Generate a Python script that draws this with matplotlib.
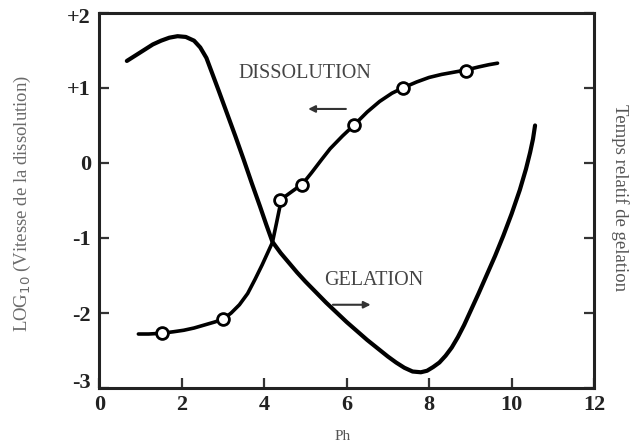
import matplotlib
matplotlib.use("Agg")
import matplotlib.pyplot as plt
import matplotlib.transforms as mtransforms

# pH values and log10 dissolution rate (measured points, open circles)
diss_ph = [1.52, 3.01, 4.39, 4.93, 6.19, 7.36, 8.90]
diss_log = [-2.27, -2.08, -0.50, -0.29, 0.51, 1.00, 1.23]

# hand-drawn trend line through the dissolution measurements
diss_line_ph = [0.95, 1.2, 1.52, 1.8, 2.05, 2.3, 2.55, 2.8, 3.01, 3.2, 3.4,
                3.6, 3.78, 3.95, 4.1, 4.2, 4.3, 4.39, 4.5, 4.7, 4.93, 5.15,
                5.4, 5.6, 5.9, 6.19, 6.5, 6.8, 7.1, 7.36, 7.7, 8.0, 8.3, 8.6,
                8.9, 9.2, 9.45, 9.66]
diss_line_log = [-2.28, -2.28, -2.27, -2.25, -2.23, -2.20, -2.16, -2.12,
                 -2.08, -2.00, -1.89, -1.74, -1.55, -1.36, -1.18, -1.06,
                 -0.80, -0.56, -0.45, -0.37, -0.28, -0.13, 0.05, 0.19, 0.36,
                 0.51, 0.68, 0.82, 0.93, 1.00, 1.08, 1.14, 1.18, 1.21, 1.24,
                 1.28, 1.31, 1.33]

# relative gelation time curve (plotted on the same vertical scale)
gel_ph = [0.67, 0.9, 1.1, 1.3, 1.5, 1.7, 1.9, 2.1, 2.3, 2.45, 2.6, 2.75, 2.9,
          3.1, 3.3, 3.5, 3.7, 3.9, 4.05, 4.2, 4.4, 4.6, 4.8, 5.0, 5.25, 5.5,
          5.75, 6.0, 6.25, 6.5, 6.75, 7.0, 7.2, 7.4, 7.6, 7.8, 7.95, 8.1,
          8.25, 8.4, 8.55, 8.7, 8.85, 9.0, 9.2, 9.4, 9.6, 9.8, 10.0, 10.2,
          10.35, 10.45, 10.52, 10.57]
gel_time = [1.36, 1.44, 1.51, 1.58, 1.63, 1.67, 1.69, 1.68, 1.63, 1.54, 1.40,
            1.18, 0.96, 0.66, 0.36, 0.05, -0.27, -0.58, -0.82, -1.05, -1.20,
            -1.33, -1.46, -1.58, -1.72, -1.86, -1.99, -2.12, -2.24, -2.36,
            -2.47, -2.58, -2.66, -2.73, -2.78, -2.79, -2.77, -2.72, -2.66,
            -2.57, -2.46, -2.32, -2.16, -1.98, -1.74, -1.49, -1.24, -0.97,
            -0.68, -0.36, -0.08, 0.14, 0.32, 0.50]

x_ticks = [0, 2, 4, 6, 8, 10, 12]
y_ticks = [2, 1, 0, -1, -2, -3]
y_tick_labels = ["+2", "+1", "0", "-1", "-2", "-3"]

serif = ["Liberation Serif", "DejaVu Serif"]

fig = plt.figure(figsize=(6.36, 4.46), dpi=100)
ax = fig.add_axes([0.156, 0.130, 0.778, 0.841])

ax.plot(gel_ph, gel_time, color="black", lw=3.0, solid_capstyle="round",
        solid_joinstyle="round", zorder=2)
ax.plot(diss_line_ph, diss_line_log, color="black", lw=2.6,
        solid_capstyle="round", solid_joinstyle="round", zorder=2)
ax.plot(diss_ph, diss_log, linestyle="none", marker="o", ms=8.5,
        mfc="white", mec="black", mew=2.0, zorder=3)

ax.set_xlim(0, 12)
ax.set_ylim(-3, 2)
ax.set_xticks(x_ticks)
ax.set_yticks(y_ticks)
ax.set_yticklabels(y_tick_labels)

for lab in ax.get_xticklabels() + ax.get_yticklabels():
    lab.set_fontfamily(serif)
    lab.set_fontweight("bold")
    lab.set_fontsize(16)
    lab.set_color("#222222")

ax.tick_params(direction="in", length=7, width=1.6, color="#333333",
               right=True, top=False, pad=6)
ax.tick_params(axis="x", pad=5)
for s in ax.spines.values():
    s.set_linewidth(2.2)
    s.set_color("#222222")

# nudge the corner labels the way they sit on the original axes
ylabs = ax.get_yticklabels()
ylabs[-1].set_transform(ylabs[-1].get_transform() +
                        mtransforms.ScaledTranslation(0, 8 / 100, fig.dpi_scale_trans))
ylabs[0].set_transform(ylabs[0].get_transform() +
                       mtransforms.ScaledTranslation(0, -3 / 100, fig.dpi_scale_trans))

fig.text(0.539, 0.022, "Ph", ha="center", va="center", fontfamily=serif,
         fontsize=11, color="#555555")
fig.text(0.036, 0.543, "LOG$_{10}$ (Vitesse de la dissolution)", rotation=90,
         ha="center", va="center", fontfamily=serif, fontsize=13.5,
         color="#6a6a6a")
fig.text(0.975, 0.558, "Temps relatif de gelation", rotation=270,
         ha="center", va="center", fontfamily=serif, fontsize=13.5,
         color="#555555")

# curve labels with direction arrows
ax.text(4.98, 1.19, "DISSOLUTION", ha="center", va="center",
        fontfamily=serif, fontsize=14.5, color="#444444")
ax.annotate("", xy=(5.0, 0.72), xytext=(6.05, 0.72),
            arrowprops=dict(arrowstyle="-|>", color="#333333", lw=1.5,
                            mutation_scale=10))
ax.text(6.65, -1.57, "GELATION", ha="center", va="center",
        fontfamily=serif, fontsize=14.5, color="#444444")
ax.annotate("", xy=(6.65, -1.89), xytext=(5.6, -1.89),
            arrowprops=dict(arrowstyle="-|>", color="#333333", lw=1.5,
                            mutation_scale=10))

fig.savefig("out.png", dpi=100)
